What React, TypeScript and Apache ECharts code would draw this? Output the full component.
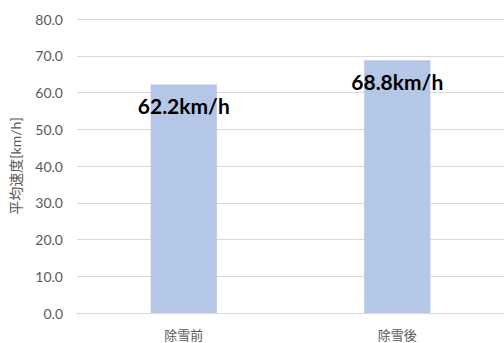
import React, { useEffect, useRef } from "react";
import * as echarts from "echarts";

const categories = ["除雪前", "除雪後"];
const speeds = [62.2, 68.8];
const yAxisName = "平均速度[km/h]";
const yMin = 0;
const yMax = 80;
const yInterval = 10;

export default function App() {
  const ref = useRef<HTMLDivElement>(null);
  useEffect(() => {
    if (!ref.current) return;
    const chart = echarts.init(ref.current, undefined, { renderer: "svg" });
    const font = "Lato, 'Noto Sans CJK JP', sans-serif";
    chart.setOption({
      animation: false,
      textStyle: { fontFamily: font },
      grid: { left: 77, right: 0, top: 19, bottom: 30 },
      xAxis: {
        type: "category",
        data: categories,
        axisTick: { show: false },
        axisLine: { lineStyle: { color: "#d9d9d9", width: 1 } },
        axisLabel: { color: "#595959", fontSize: 13, margin: 15, fontFamily: font },
      },
      yAxis: {
        type: "value",
        min: yMin,
        max: yMax,
        interval: yInterval,
        name: yAxisName,
        nameLocation: "middle",
        nameGap: 55,
        nameRotate: 90,
        nameTextStyle: { color: "#595959", fontSize: 14, fontFamily: font },
        axisLine: { show: false },
        axisTick: { show: false },
        splitLine: { lineStyle: { color: "#d9d9d9", width: 1 } },
        axisLabel: {
          color: "#595959",
          fontSize: 14,
          margin: 14,
          fontFamily: font,
          formatter: (v: number) => v.toFixed(1),
        },
      },
      series: [
        {
          type: "bar",
          data: speeds,
          barWidth: "31%",
          itemStyle: { color: "#b4c7e7" },
          label: {
            show: true,
            position: "insideTop",
            distance: 11,
            color: "#000000",
            fontSize: 21,
            fontWeight: "bold",
            fontFamily: font,
            formatter: (p: any) => `${p.value}km/h`,
          },
        },
      ],
    });
    return () => chart.dispose();
  }, []);
  return <div ref={ref} style={{ width: 504, height: 343, position: "absolute", left: 0, top: 0 }} />;
}
